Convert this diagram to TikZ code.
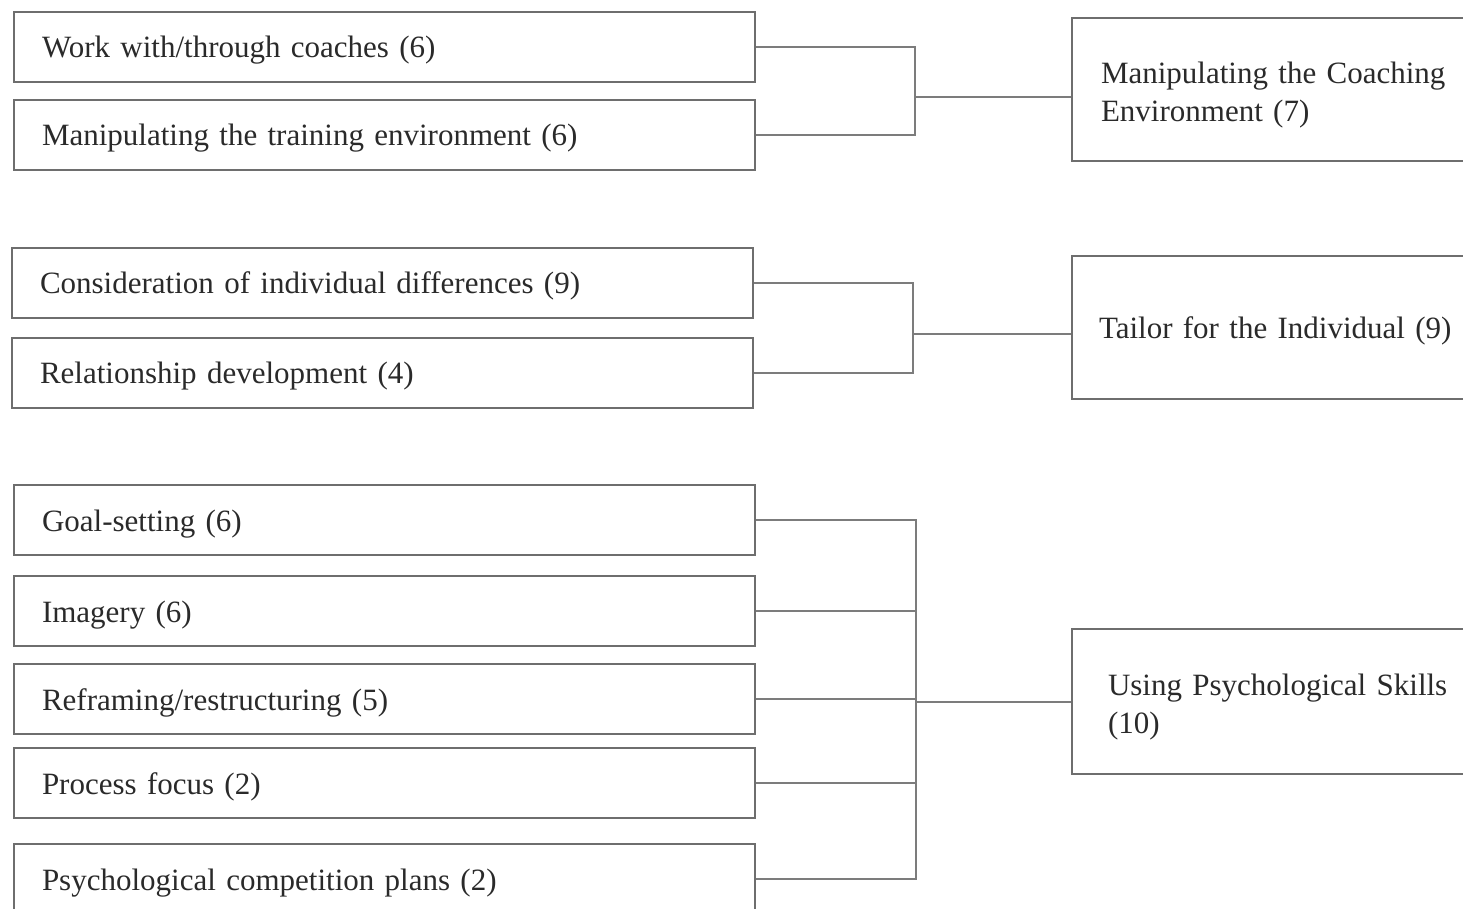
\documentclass[tikz,border=0pt]{standalone}
\usepackage{fontspec}
\setmainfont{Liberation Serif}
\definecolor{boxline}{HTML}{6E6E6E}
\definecolor{conline}{HTML}{7C7C7C}
\definecolor{txt}{HTML}{2A2A2A}
\begin{document}
\begin{tikzpicture}[x=0.5pt,y=-0.5pt,
  every node/.style={font=\fontsize{15.5pt}{19pt}\selectfont, text=txt},
  lbox/.style={draw=boxline, line width=1pt, anchor=north west,
    minimum width=370.5pt, minimum height=35pt, text width=342.5pt,
    inner xsep=14pt, inner ysep=0pt, align=left,
    text height=14.5pt, text depth=3.5pt},
  rbox/.style={draw=boxline, line width=1pt, anchor=north west,
    minimum width=210pt, minimum height=71.5pt, text width=190pt,
    inner ysep=0pt, align=left},
  con/.style={draw=conline, line width=0.9pt}]
\useasboundingbox (0,0) rectangle (1463,909);
\clip (0,0) rectangle (1463,909);
% left boxes
\node[lbox] (b1) at (13,11) {Work with/through coaches (6)};
\node[lbox] (b2) at (13,99) {Manipulating the training environment (6)};
\node[lbox] (b3) at (11,247) {Consideration of individual differences (9)};
\node[lbox] (b4) at (11,337) {Relationship development (4)};
\node[lbox] (b5) at (13,484) {Goal-setting (6)};
\node[lbox] (b6) at (13,575) {Imagery (6)};
\node[lbox] (b7) at (13,663) {Reframing/restructuring (5)};
\node[lbox] (b8) at (13,747) {Process focus (2)};
\node[lbox] (b9) at (13,843) {Psychological competition plans (2)};
% right boxes
\node[rbox, inner xsep=14.5pt, text height=16pt] (A) at (1071,17) {Manipulating the Coaching\\Environment (7)};
\node[rbox, inner xsep=13.5pt, text height=14.5pt, text depth=3.5pt] (B) at (1071,255) {Tailor for the Individual (9)};
\node[rbox, inner xsep=18pt, minimum height=72.5pt, text height=16pt] (C) at (1071,628) {Using Psychological Skills\\(10)};
% junctions
\coordinate (j1) at (915,97);
\coordinate (j2) at (913,334);
\coordinate (j3) at (916,702);
% group 1
\draw[con] (b1.east) -| (j1) |- (b2.east);
\draw[con] (j1) -- (j1 -| A.west);
% group 2
\draw[con] (b3.east) -| (j2) |- (b4.east);
\draw[con] (j2) -- (j2 -| B.west);
% group 3
\draw[con] (b5.east) -| (j3) |- (b9.east);
\draw[con] (b6.east) -- (b6.east -| j3);
\draw[con] (b7.east) -- (b7.east -| j3);
\draw[con] (b8.east) -- (b8.east -| j3);
\draw[con] (j3) -- (j3 -| C.west);
\end{tikzpicture}
\end{document}
